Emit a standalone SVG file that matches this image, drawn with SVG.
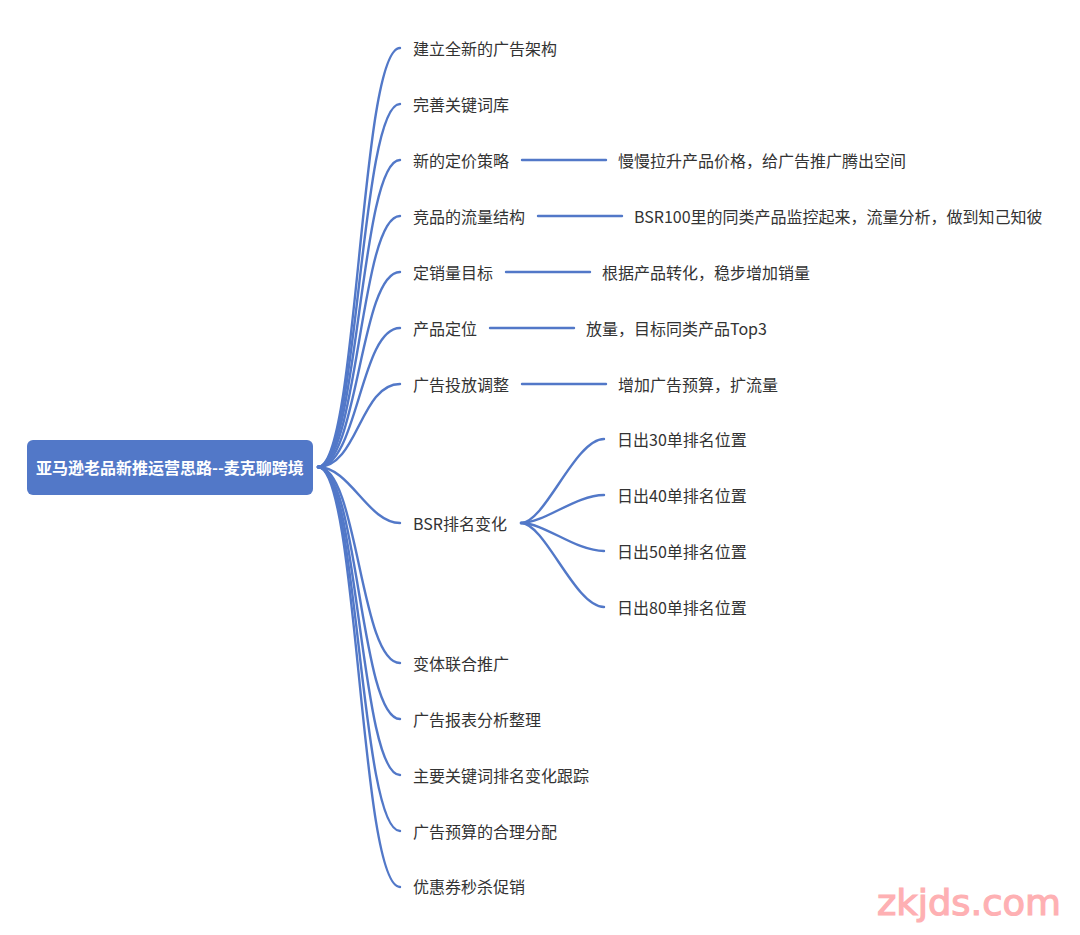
<svg xmlns="http://www.w3.org/2000/svg" width="1080" height="935" viewBox="0 0 1080 935">
<style>
text{font-family:"Noto Sans CJK SC","Noto Sans",sans-serif;font-size:16px;fill:#333}
.c{fill:none;stroke:#5278c8;stroke-width:2.4;stroke-linecap:round}
.r{fill:#fff;font-size:16px;font-weight:700}
.w{font-family:"DejaVu Sans",sans-serif;font-size:36px;font-weight:400;fill:#feb0b3;stroke:#feb0b3;stroke-width:1.2}
</style>
<rect width="1080" height="935" fill="#fff"/>
<g id="connectors">
<path class="c" d="M318 467C358 467 360 48 400 48"/>
<path class="c" d="M318 467C358 467 360 104 400 104"/>
<path class="c" d="M318 467C358 467 360 160 400 160"/>
<path class="c" d="M318 467C358 467 360 216 400 216"/>
<path class="c" d="M318 467C358 467 360 272 400 272"/>
<path class="c" d="M318 467C358 467 360 328 400 328"/>
<path class="c" d="M318 467C358 467 360 384 400 384"/>
<path class="c" d="M318 467C350 467 368 523 400 523"/>
<path class="c" d="M318 467C358 467 360 663 400 663"/>
<path class="c" d="M318 467C358 467 360 719 400 719"/>
<path class="c" d="M318 467C358 467 360 775 400 775"/>
<path class="c" d="M318 467C358 467 360 831 400 831"/>
<path class="c" d="M318 467C358 467 360 887 400 887"/>
<path class="c" d="M522 160H606"/>
<path class="c" d="M538 216H622"/>
<path class="c" d="M506 272H590"/>
<path class="c" d="M490 328H574"/>
<path class="c" d="M522 384H606"/>
<path class="c" d="M521 523C545 523 575 439 604 439"/>
<path class="c" d="M521 523C545 523 575 495 604 495"/>
<path class="c" d="M521 523C545 523 575 551 604 551"/>
<path class="c" d="M521 523C545 523 575 607 604 607"/>
</g>
<g id="root"><rect x="27" y="440" width="286" height="55" rx="6" fill="#5278c8"/><text class="r" x="36" y="474">亚马逊老品新推运营思路--麦克聊跨境</text></g>
<g id="n1"><text x="413" y="55">建立全新的广告架构</text></g>
<g id="n2"><text x="413" y="111">完善关键词库</text></g>
<g id="n3"><text x="413" y="167">新的定价策略</text></g>
<g id="n3a"><text x="618" y="167">慢慢拉升产品价格，给广告推广腾出空间</text></g>
<g id="n4"><text x="413" y="223">竞品的流量结构</text></g>
<g id="n4a"><text x="634" y="223">BSR100里的同类产品监控起来，流量分析，做到知己知彼</text></g>
<g id="n5"><text x="413" y="279">定销量目标</text></g>
<g id="n5a"><text x="602" y="279">根据产品转化，稳步增加销量</text></g>
<g id="n6"><text x="413" y="335">产品定位</text></g>
<g id="n6a"><text x="586" y="335">放量，目标同类产品Top3</text></g>
<g id="n7"><text x="413" y="391">广告投放调整</text></g>
<g id="n7a"><text x="618" y="391">增加广告预算，扩流量</text></g>
<g id="n8"><text x="413" y="530">BSR排名变化</text></g>
<g id="n8a"><text x="617" y="446">日出30单排名位置</text></g>
<g id="n8b"><text x="617" y="502">日出40单排名位置</text></g>
<g id="n8c"><text x="617" y="558">日出50单排名位置</text></g>
<g id="n8d"><text x="617" y="614">日出80单排名位置</text></g>
<g id="n9"><text x="413" y="670">变体联合推广</text></g>
<g id="n10"><text x="413" y="726">广告报表分析整理</text></g>
<g id="n11"><text x="413" y="782">主要关键词排名变化跟踪</text></g>
<g id="n12"><text x="413" y="838">广告预算的合理分配</text></g>
<g id="n13"><text x="413" y="893">优惠券秒杀促销</text></g>
<text class="w" x="877" y="915" textLength="184" lengthAdjust="spacingAndGlyphs">zkjds.com</text>
</svg>
